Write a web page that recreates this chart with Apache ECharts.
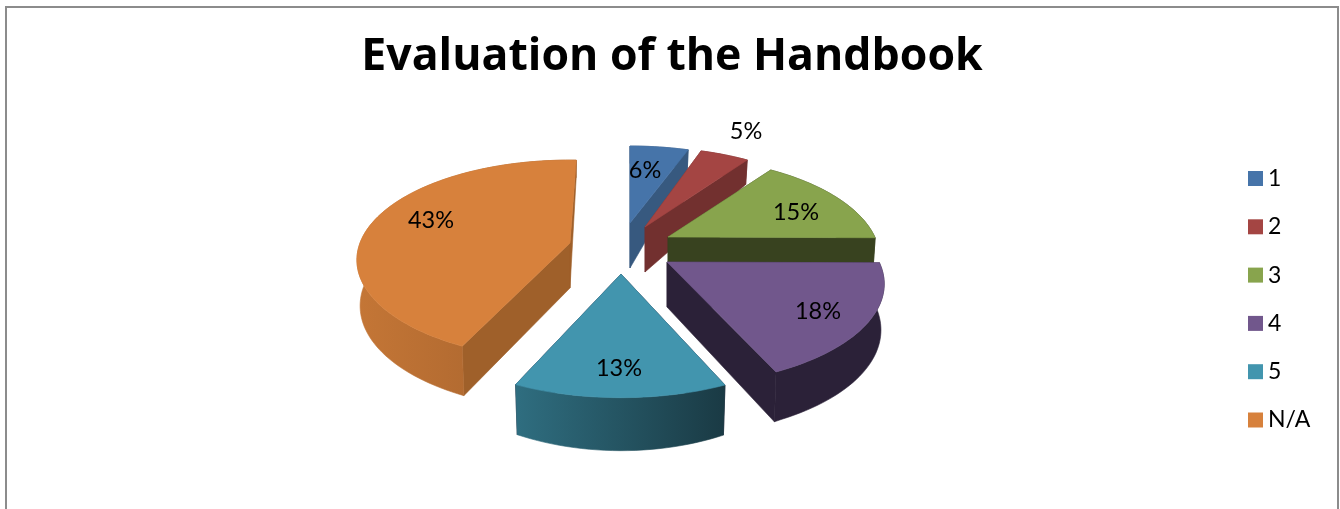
<!DOCTYPE html>
<html><head><meta charset="utf-8">
<style>html,body{margin:0;padding:0;background:#fff}#c{width:1340px;height:509px}</style>
<script src="https://cdn.jsdelivr.net/npm/echarts@6/dist/echarts.min.js"></script>
</head><body><div id="c"></div>
<script>
// Data
const categories = ['1','2','3','4','5','N/A'];
const values = [5.6,4.6,15.2,18.1,13.1,43.4];
// Appearance
const topColors  = ['#4674a9','#a44543','#88a44d','#71578c','#4295ae','#d7813c'];
const cutColors  = ['#37597f','#72302f','#38421f','#2b2138','#2b2138','#9f602a'];
const wallFrom   = ['#37597f','#72302f','#38421f','#2b2138','#2f6e80','#c47636'];
const wallTo     = ['#37597f','#72302f','#38421f','#2b2138','#1a3a44','#a2602c'];
const apexes     = [[630,223],[645,227],[668,237],[667,262],[621,274],[570,243]];
const scales     = [1,0.98,0.985,1.01,1,1];
const perspective= [0.26,0.2157,0.2157,0.2157,0.2157,0.17];
const rotations  = [0,-1,-1,-1,0,2];
const labelShift = [[15,-53],[101,-96],[128,-25],[151,49],[-2,94],[-139,-23]];
const R = 210, S = 97;

const total = values.reduce((a,b)=>a+b,0);
function wallHeight(v){
  if(v < -0.3) return 43.5 + (v+0.3)*37;
  return 45 + 5*v + (v > 0.9 ? 30*(v-0.9) : 0);
}
function project(theta, apex, sc, K, lower){
  const u = Math.sin(theta), v = -Math.cos(theta), w = 1 - K*v;
  const X = sc*R*u/w, Y = S*v/w;
  if(!lower) return [apex[0]+X, apex[1]+Y];
  return [apex[0]+X*0.985, apex[1]+Y+wallHeight(v)];
}
function arc(a0,a1,apex,sc,K,lower){
  const n = Math.max(4,Math.ceil((a1-a0)/0.03)), pts=[];
  for(let i=0;i<=n;i++) pts.push(project(a0+(a1-a0)*i/n,apex,sc,K,lower));
  return pts;
}
function makeRender(i){
  const before = values.slice(0,i).reduce((a,b)=>a+b,0);
  const rot = rotations[i]*Math.PI/180;
  const a0 = before/total*2*Math.PI+rot, a1 = (before+values[i])/total*2*Math.PI+rot;
  return function(){
    const ap = apexes[i], sc = scales[i], K = perspective[i];
    const apLow = [ap[0], ap[1]+45];
    const up = arc(a0,a1,ap,sc,K,false), lo = arc(a0,a1,ap,sc,K,true);
    const poly = (points,fill)=>({type:'polygon',shape:{points},style:{fill,stroke:fill,lineWidth:0.6}});
    const grad = {type:'linear',x:0,y:0,x2:1,y2:0,colorStops:[{offset:0,color:wallFrom[i]},{offset:1,color:wallTo[i]}]};
    return {type:'group',children:[
      poly([ap,up[0],lo[0],apLow],cutColors[i]),
      poly([ap,up[up.length-1],lo[lo.length-1],apLow],cutColors[i]),
      poly(up.concat(lo.slice().reverse()),grad),
      poly([ap].concat(up),topColors[i]),
      {type:'text',z2:10,style:{x:ap[0]+labelShift[i][0],y:ap[1]+labelShift[i][1],
        text:Math.round(values[i]/total*100)+'%',fill:'#000',font:'23.5px Lato, sans-serif',align:'center',verticalAlign:'middle'}}
    ]};
  };
}
const chart = echarts.init(document.getElementById('c'),null,{renderer:'canvas'});
chart.setOption({
  animation:false,
  backgroundColor:'#fff',
  title:{text:'Evaluation of the Handbook',left:667,top:30,textAlign:'center',
    textStyle:{fontFamily:'"Open Sans", sans-serif',fontWeight:'bold',fontSize:44.6,color:'#000'}},
  legend:{orient:'vertical',left:1248,top:167,padding:0,itemWidth:15,itemHeight:15,itemGap:25.3,icon:'rect',
    data:categories,selectedMode:false,
    textStyle:{fontFamily:'Lato, sans-serif',fontSize:23,color:'#000'}},
  graphic:[{type:'rect',shape:{x:6,y:7,width:1332,height:600},style:{fill:'none',stroke:'#8c8c8c',lineWidth:2},silent:true}],
  series:categories.map((name,i)=>({
    type:'custom',name,coordinateSystem:'none',silent:true,
    itemStyle:{color:topColors[i]},
    data:[[values[i]]],renderItem:makeRender(i)
  }))
});
</script></body></html>
